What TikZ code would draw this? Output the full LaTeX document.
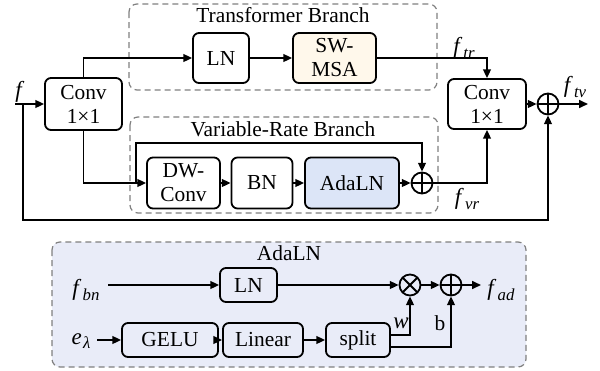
\documentclass[tikz,border=0pt]{standalone}
\usepackage{fontspec}
\setmainfont{Liberation Serif}
\usetikzlibrary{positioning,arrows.meta,calc}
\definecolor{msafill}{HTML}{FFF8EB}
\definecolor{adafill}{HTML}{DCE5F7}
\definecolor{panelfill}{HTML}{E9ECF8}
\newcommand{\fsub}[2]{\textit{#1}\kern0.6pt\raisebox{-0.45ex}{\fontsize{8.4}{9}\selectfont\textit{#2}}}

\begin{document}
\begin{tikzpicture}[
    x=0.5pt, y=-0.5pt,
    font=\fontsize{10.7}{12}\selectfont,
    >={Triangle[length=4.4pt,width=3.9pt]},
    blk/.style={draw,line width=0.9pt,rounded corners=3pt,align=center,inner sep=0pt},
    flow/.style={line width=0.9pt,->},
    branch/.style={draw=gray,dash pattern=on 3pt off 2pt,line width=0.6pt,rounded corners=4pt},
    lbl/.style={inner sep=1pt,font=\fontsize{11.5}{12}\selectfont},
    opsum/.style={draw,circle,line width=0.9pt,minimum size=10.5pt,inner sep=0pt,
        path picture={\draw[line width=0.9pt]
            (path picture bounding box.north) -- (path picture bounding box.south)
            (path picture bounding box.west) -- (path picture bounding box.east);}},
    opmul/.style={draw,circle,line width=0.9pt,minimum size=10.5pt,inner sep=0pt,
        path picture={\draw[line width=0.9pt]
            (path picture bounding box.north west) -- (path picture bounding box.south east)
            (path picture bounding box.south west) -- (path picture bounding box.north east);}}
]
\useasboundingbox (0,0) rectangle (600,370);

% branch frames
\draw[branch] (129,4) rectangle (437,90);
\node[inner sep=1pt] (ttitle) at (283,15) {Transformer Branch};
\draw[branch] (130,117) rectangle (438,213);
\node[inner sep=1pt] (vtitle) at (283,129) {Variable-Rate Branch};

% main path
\node[blk,minimum width=38.5pt,minimum height=26pt] (conva) at (83.5,104) {Conv\\1×1};
\node[blk,minimum width=28pt,minimum height=25pt] (ln) at (221,58) {LN};
\node[blk,fill=msafill,minimum width=41.5pt,minimum height=25pt] (msa) at (334.5,58) {SW-\\MSA};
\node[blk,minimum width=36.5pt,minimum height=25.5pt] (dw) at (183.5,183) {DW-\\Conv};
\node[blk,minimum width=30.5pt,minimum height=25.5pt] (bn) at (262,183) {BN};
\node[blk,fill=adafill,minimum width=47pt,minimum height=25.5pt] (ada) at (352,183) {AdaLN};
\node[opsum] (sum1) at (422,183) {};
\node[blk,minimum width=39pt,minimum height=25pt] (convb) at (487,104) {Conv\\1×1};
\node[opsum] (sum2) at (548,104) {};

\coordinate (fin) at (15,104);
\coordinate (fork) at (23,104);
\coordinate (lowleft) at (23,220);
\coordinate (tap) at (136,183);
\coordinate (skiptop) at (136,143);
\coordinate (fout) at (588,104);

\node[lbl] (flab) at (20,92) {\textit{f}};
\node[lbl] (ftr) at (464,48) {\fsub{f}{tr}};
\node[lbl] (fvr) at (467,199) {\fsub{f}{vr}};
\node[lbl] (ftv) at (575,87) {\fsub{f}{tv}};

\draw[flow] (fin) -- (conva.west);
\draw[flow] (conva.north) |- (ln.west);
\draw[flow] (ln) -- (msa);
\draw[flow] (msa.east) -| (convb.north);
\draw[flow] (conva.south) |- (dw.west);
\draw[flow] (dw) -- (bn);
\draw[flow] (bn) -- (ada);
\draw[flow] (ada) -- (sum1);
\draw[flow] (tap) -- (skiptop) -| (sum1.north);
\draw[flow] (sum1.east) -| (convb.south);
\draw[flow] (convb) -- (sum2);
\draw[flow] (sum2.east) -- (fout);
\draw[flow] (fork) -- (lowleft) -| (sum2.south);

% AdaLN detail
\draw[branch,fill=panelfill] (52,242) rectangle (526,367);
\node[inner sep=1pt] (atitle) at (289,253) {AdaLN};

\node[blk,minimum width=28.5pt,minimum height=17pt] (ln2) at (248.5,285) {LN};
\node[opmul] (mul) at (410,285) {};
\node[opsum] (add) at (451,285) {};
\node[blk,minimum width=48pt,minimum height=17pt] (gelu) at (170,340) {GELU};
\node[blk,minimum width=40pt,minimum height=17pt] (lin) at (263,340) {Linear};
\node[blk,minimum width=32pt,minimum height=17pt] (spl) at (358,340) {split};

\coordinate (bnin) at (108,285);
\coordinate (adout) at (481,285);
\coordinate (ein) at (97,340);

\node[lbl] (fbn) at (86,290) {\fsub{f}{bn}};
\node[lbl] (fad) at (501,290) {\fsub{f}{ad}};
\node[lbl] (elam) at (81,341) {\fsub{e}{λ}};
\node[lbl] (wlab) at (401,323) {\textit{w}};
\node[inner sep=1pt] (blab) at (440,323) {b};

\draw[flow] (bnin) -- (ln2);
\draw[flow] (ln2) -- (mul);
\draw[flow] (mul) -- (add);
\draw[flow] (add) -- (adout);
\draw[flow] (ein) -- (gelu);
\draw[flow] (gelu) -- (lin);
\draw[flow] (lin) -- (spl);
\draw[flow] ([yshift=2.5pt]spl.east) -| (mul.south);
\draw[flow] ([yshift=-3.5pt]spl.east) -| (add.south);

\end{tikzpicture}
\end{document}
